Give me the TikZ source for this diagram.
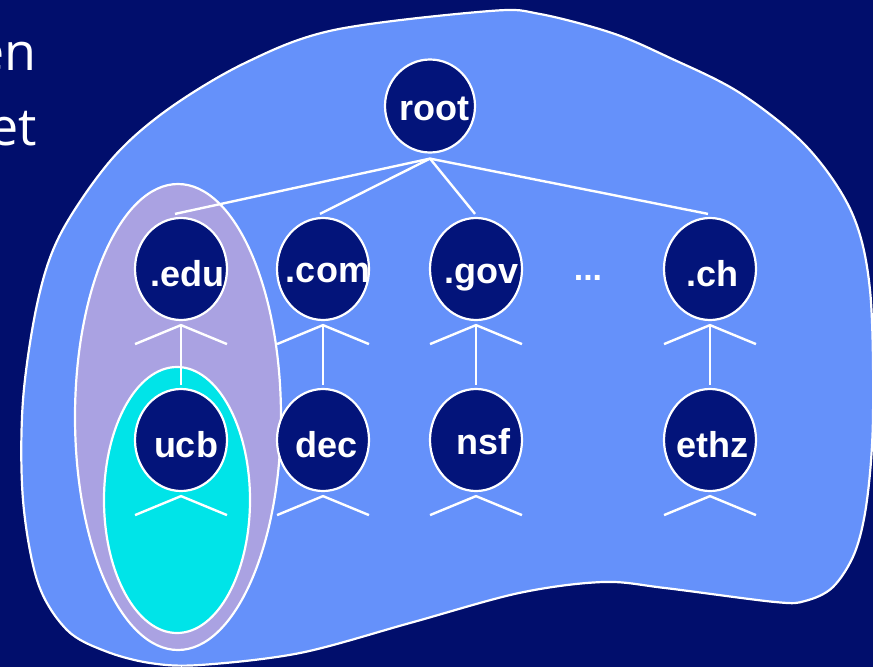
\documentclass[tikz,border=0pt]{standalone}
\usepackage{fontspec}
\setmainfont{Liberation Sans}
\newfontfamily\capfont{Open Sans}
\usetikzlibrary{shapes.geometric}
\definecolor{bgnavy}{RGB}{1,14,108}
\definecolor{nodenavy}{RGB}{3,20,122}
\definecolor{blobblue}{RGB}{101,145,250}
\definecolor{lavfill}{RGB}{170,162,226}
\definecolor{cyanfill}{RGB}{0,228,232}
\tikzset{
  region/.style={draw=white, line width=2.2pt},
  dnode/.style={ellipse, draw=white, line width=2.2pt, fill=nodenavy,
    minimum width=92pt, minimum height=102pt, inner sep=0pt},
  lbl/.style={anchor=base, text=white, inner sep=0pt,
    font=\fontsize{36}{36}\selectfont\bfseries},
  capt/.style={anchor=base east, text=white, inner sep=0pt,
    font=\capfont\fontsize{52}{52}\selectfont},
  link/.style={draw=white, line width=2.4pt}
}
\begin{document}
\begin{tikzpicture}[x=1pt,y=-1pt]
\useasboundingbox (0,0) rectangle (873,667);
\clip (0,0) rectangle (873,667);
\fill[bgnavy] (0,0) rectangle (873,667);

% partial caption text
\node[capt] (cap1) at (37,70) {en};
\node[capt] (cap2) at (37,145) {et};

% big blob
\draw[region, fill=blobblue] plot[smooth cycle, tension=0.55] coordinates {
  (490,11) (540,14) (612,33) (668,57) (740,93) (807,147) (852,213)
  (870,290) (873,417) (867,500) (855,552) (833,587) (805,601)
  (775,602) (665,588) (603,582) (519,593) (410,623) (300,653)
  (200,665) (150,663) (105,651) (67,630) (38,583) (23,500) (23,400)
  (38,300) (61,233) (111,160) (167,110) (245,63) (334,30)};

% lavender and cyan regions
\draw[region, fill=lavfill] (178,417) ellipse [x radius=103, y radius=233];
\draw[region, fill=cyanfill] (177,500) ellipse [x radius=73, y radius=133];

% nodes
\node[dnode, minimum width=90pt, minimum height=93pt] (root) at (430,106) {};
\node[dnode] (edu) at (181,269) {};
\node[dnode] (com) at (323,269) {};
\node[dnode] (gov) at (476,269) {};
\node[dnode] (ch)  at (710,269) {};
\node[dnode] (ucb) at (181,440) {};
\node[dnode] (dec) at (323,440) {};
\node[dnode] (nsf) at (476,440) {};
\node[dnode] (ethz) at (710,440) {};

% labels
\node[lbl] (root-t) at (434,120) {root};
\node[lbl] (edu-t) at (187,286) {.edu};
\node[lbl] (com-t) at (328,282) {.com};
\node[lbl] (gov-t) at (481,283) {.gov};
\node[lbl] (ch-t) at (712,286) {.ch};
\node[lbl, font=\fontsize{34}{34}\selectfont\bfseries] (dots) at (588,280) {...};
\node[lbl] (ucb-t) at (186,457) {ucb};
\node[lbl] (dec-t) at (327,457) {dec};
\node[lbl] (nsf-t) at (483,454) {nsf};
\node[lbl] (ethz-t) at (712,457) {ethz};

% root to top-level domains
\draw[link] ([yshift=-5pt]root.south) -- ([xshift=-6pt,yshift=3pt]edu.north);
\draw[link] ([yshift=-5pt]root.south) -- ([xshift=-3pt,yshift=3pt]com.north);
\draw[link] ([yshift=-5pt]root.south) -- ([xshift=-1pt,yshift=3pt]gov.north);
\draw[link] ([yshift=-5pt]root.south) -- ([xshift=-2pt,yshift=3pt]ch.north);

% vertical links
\foreach \a/\b in {edu/ucb, com/dec, gov/nsf, ch/ethz}
  \draw[link] ([yshift=-4pt]\a.south) -- ([yshift=3pt]\b.north);

% legs below each node
\foreach \n in {edu, com, gov, ch, ucb, dec, nsf, ethz}
  \draw[link] ([xshift=-46pt,yshift=-23pt]\n.south) -- ([yshift=-4pt]\n.south)
    -- ([xshift=46pt,yshift=-23pt]\n.south);
\end{tikzpicture}
\end{document}
